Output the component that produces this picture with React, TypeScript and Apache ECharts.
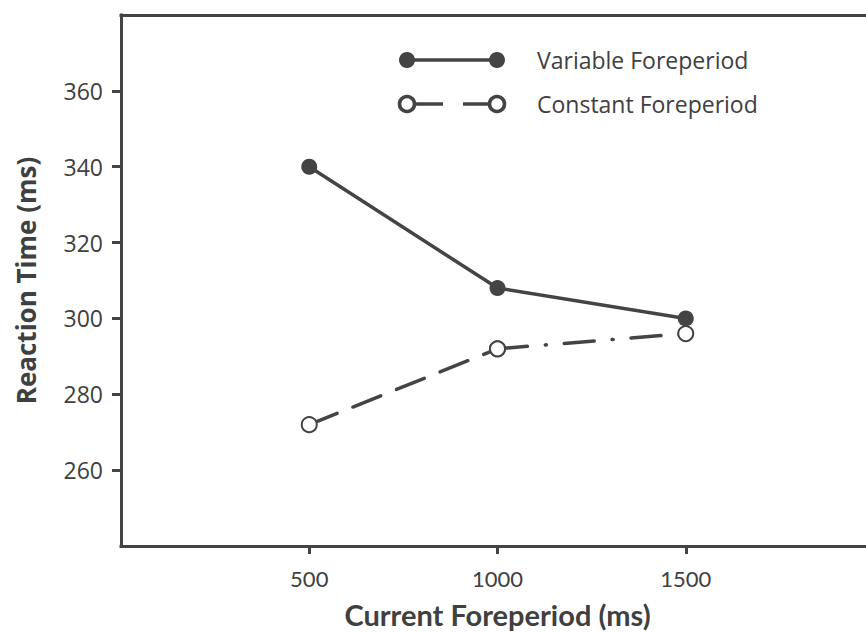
import React, { useEffect, useRef } from "react";
import * as echarts from "echarts";

const foreperiods = [500, 1000, 1500];
const variableRT = [340, 308, 300];
const constantRT = [272, 292, 296];
const yTicks = [260, 280, 300, 320, 340, 360];
const xTicks = [500, 1000, 1500];
const legendNames = ["Variable Foreperiod", "Constant Foreperiod"];

const INK = "#444444";
const TEXT = "#404040";

export default function App() {
  const ref = useRef<HTMLDivElement>(null);
  useEffect(() => {
    if (!ref.current) return;
    const chart = echarts.init(ref.current, null, { renderer: "svg" });
    const varData = foreperiods.map((x, i) => [x, variableRT[i]]);
    const constA = foreperiods.slice(0, 2).map((x, i) => [x, constantRT[i]]);
    const constB = foreperiods.slice(1, 3).map((x, i) => [x, constantRT[i + 1]]);
    const legendY = [60, 104];
    chart.setOption({
      animation: false,
      backgroundColor: "#ffffff",
      grid: {
        left: 121,
        top: 15,
        width: 753,
        height: 531,
        show: false,
        outerBoundsMode: "none",
        containLabel: false,
      },
      xAxis: [
        {
          type: "value",
          position: "bottom",
          min: 0,
          max: 2000,
          interval: 500,
          splitLine: { show: false },
          axisLine: { show: true, onZero: false, lineStyle: { color: INK, width: 3, cap: "square" } },
          axisTick: {
            show: true,
            length: 8,
            inside: false,
            customValues: xTicks,
            lineStyle: { color: INK, width: 3 },
          },
          axisLabel: {
            customValues: xTicks,
            formatter: (v: number) => String(v),
            color: TEXT,
            fontFamily: "Lato",
            fontSize: 22,
            margin: 21,
          },
          name: "Current Foreperiod (ms)",
          nameLocation: "middle",
          nameGap: 54,
          nameTextStyle: {
            color: TEXT,
            fontFamily: "Lato",
            fontWeight: "bold",
            fontSize: 29,
          },
        },
        {
          type: "value",
          position: "top",
          min: 0,
          max: 2000,
          interval: 500,
          splitLine: { show: false },
          axisLine: { show: true, onZero: false, lineStyle: { color: INK, width: 3, cap: "square" } },
          axisTick: { show: false },
          axisLabel: { show: false },
        },
      ],
      yAxis: {
        type: "value",
        min: 240,
        max: 380,
        interval: 20,
        splitLine: { show: false },
        axisLine: { show: true, onZero: false, lineStyle: { color: INK, width: 3, cap: "square" } },
        axisTick: {
          show: true,
          length: 9,
          customValues: yTicks,
          lineStyle: { color: INK, width: 3 },
        },
        axisLabel: {
          customValues: yTicks,
          color: TEXT,
          fontFamily: "Open Sans",
          fontSize: 23,
          margin: 18,
        },
        name: "Reaction Time (ms)",
        nameLocation: "middle",
        nameRotate: 90,
        nameGap: 82,
        nameTextStyle: {
          color: TEXT,
          fontFamily: "Open Sans",
          fontWeight: "bold",
          fontSize: 26,
        },
      },
      series: [
        {
          name: legendNames[0],
          type: "line",
          data: varData,
          symbol: "circle",
          symbolSize: 16,
          itemStyle: { color: INK },
          lineStyle: { color: INK, width: 3.5 },
          z: 3,
        },
        {
          name: legendNames[1],
          type: "line",
          data: constA,
          symbol: "emptyCircle",
          symbolSize: 15,
          itemStyle: { color: INK, borderWidth: 3.5, borderColor: INK },
          lineStyle: { color: INK, width: 3.5, type: [30, 17], cap: "round" },
          z: 2,
        },
        {
          name: legendNames[1],
          type: "line",
          data: constB,
          symbol: "emptyCircle",
          symbolSize: 15,
          itemStyle: { color: INK, borderWidth: 3.5, borderColor: INK },
          lineStyle: { color: INK, width: 3.5, type: [30, 18, 1, 18], cap: "round" },
          z: 4,
        },
      ],
      graphic: [
        { type: "line", shape: { x1: 407, y1: legendY[0], x2: 497, y2: legendY[0] }, style: { stroke: INK, lineWidth: 3.5 } },
        { type: "circle", shape: { cx: 407, cy: legendY[0], r: 8 }, style: { fill: INK } },
        { type: "circle", shape: { cx: 497, cy: legendY[0], r: 8 }, style: { fill: INK } },
        { type: "text", x: 537, y: legendY[0], style: { text: legendNames[0], fill: TEXT, font: "23px 'Open Sans'", textVerticalAlign: "middle" } },
        { type: "line", shape: { x1: 407, y1: legendY[1], x2: 443, y2: legendY[1] }, style: { stroke: INK, lineWidth: 3.5 } },
        { type: "line", shape: { x1: 463, y1: legendY[1], x2: 497, y2: legendY[1] }, style: { stroke: INK, lineWidth: 3.5 } },
        { type: "circle", shape: { cx: 407, cy: legendY[1], r: 7.5 }, style: { fill: "#ffffff", stroke: INK, lineWidth: 3.5 } },
        { type: "circle", shape: { cx: 497, cy: legendY[1], r: 7.5 }, style: { fill: "#ffffff", stroke: INK, lineWidth: 3.5 } },
        { type: "text", x: 537, y: legendY[1], style: { text: legendNames[1], fill: TEXT, font: "23px 'Open Sans'", textVerticalAlign: "middle" } },
      ],
    });
    return () => chart.dispose();
  }, []);
  return (
    <div
      ref={ref}
      style={{ position: "fixed", left: 0, top: 0, width: 866, height: 632, overflow: "hidden", background: "#fff" }}
    />
  );
}
